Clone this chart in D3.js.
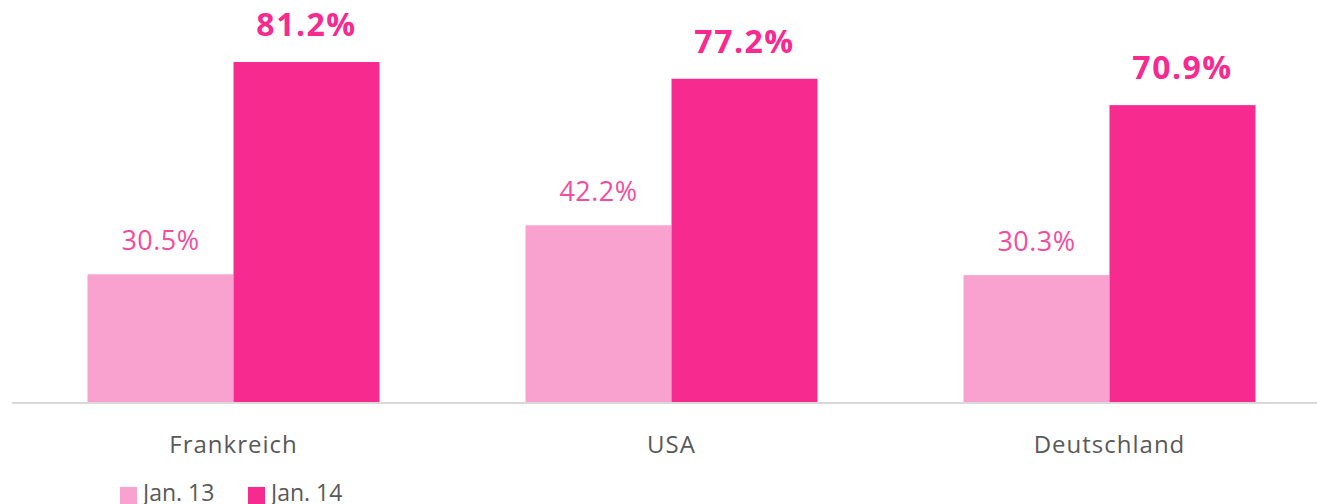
<!DOCTYPE html>
<html>
<head>
<style>
  body { margin: 0; background: #fff; }
  text { font-family: "Open Sans", "Noto Sans", sans-serif; }
</style>
<script src="https://d3js.org/d3.v7.min.js"></script>
</head>
<body>
<script>
const categories = ["Frankreich", "USA", "Deutschland"];
const seriesNames = ["Jan. 13", "Jan. 14"];
const jan13 = [30.5, 42.2, 30.3];
const jan14 = [81.2, 77.2, 70.9];

const w = 1317, h = 504;
const baseY = 402;
const colors = ["#f9a2d0", "#f72a8f"];
const labelColors = ["#f54d9e", "#f72a8f"];

const svg = d3.select("body").append("svg")
  .attr("width", w).attr("height", h);

const x = d3.scaleBand().domain(categories)
  .range([14.5, 1328.5]).paddingInner(1 / 3).paddingOuter(1 / 6);
const x1 = d3.scaleBand().domain(seriesNames).range([0, x.bandwidth()]);
const y = d3.scaleLinear().domain([0, 81.2]).range([baseY, 62]);

const rows = categories.map((c, i) => ({ cat: c, vals: [jan13[i], jan14[i]] }));

const g = svg.selectAll("g.cat").data(rows).enter().append("g")
  .attr("transform", d => "translate(" + x(d.cat) + ",0)");

g.selectAll("rect").data(d => d.vals).enter().append("rect")
  .attr("x", (d, i) => x1(seriesNames[i]))
  .attr("width", x1.bandwidth())
  .attr("y", d => y(d))
  .attr("height", d => baseY - y(d))
  .attr("fill", (d, i) => colors[i]);

g.selectAll("text.val").data(d => d.vals).enter().append("text")
  .attr("class", "val")
  .attr("x", (d, i) => x1(seriesNames[i]) + x1.bandwidth() / 2)
  .attr("y", (d, i) => y(d) - (i === 1 ? 26 : 24))
  .attr("text-anchor", "middle")
  .attr("fill", (d, i) => labelColors[i])
  .style("font-size", (d, i) => i === 1 ? "32px" : "27px")
  .style("font-weight", (d, i) => i === 1 ? "bold" : "normal")
  .style("letter-spacing", (d, i) => i === 1 ? "1.5px" : "0.5px")
  .text(d => d.toFixed(1) + "%");

// axis line
const xAxis = d3.axisBottom(x).tickSize(0).tickPadding(33);
const ax = svg.append("g").attr("transform", "translate(0," + (baseY + 1) + ")").call(xAxis);
ax.select(".domain").attr("stroke", "#d9d9d9").attr("stroke-width", 2)
  .attr("d", "M12,0H1317");
ax.selectAll("text").attr("fill", "#595959").style("font-size", "24px")
  .style("letter-spacing", "1px")
  .style("font-family", "'Open Sans', sans-serif");

// legend
const legendX = [120, 248];
const lg = svg.selectAll("g.leg").data(seriesNames).enter().append("g")
  .attr("transform", (d, i) => "translate(" + legendX[i] + ",487)");
lg.append("rect").attr("width", 17).attr("height", 17).attr("fill", (d, i) => colors[i]);
lg.append("text").attr("x", 23).attr("y", 14).attr("fill", "#595959")
  .style("font-size", "23px").text(d => d);
</script>
</body>
</html>
